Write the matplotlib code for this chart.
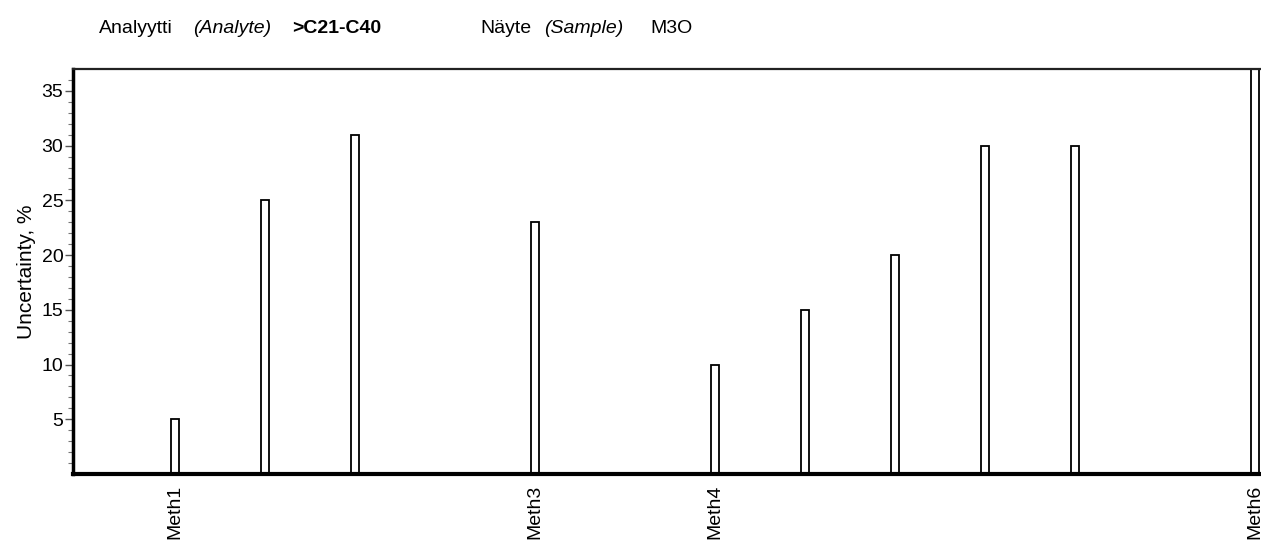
import numpy as np
from matplotlib import pyplot as plt

plt.rcParams['font.family'] = ['Liberation Sans', 'DejaVu Sans']

# data  ----------------------------------------------------------------
slots = [0, 1, 2, 4, 6, 7, 8, 9, 10, 12]          # method slot of each result
uncertainty = [5, 25, 31, 23, 10, 15, 20, 30, 30, 40]
label_slots = [0, 4, 6, 12]
label_names = ['Meth1', 'Meth3', 'Meth4', 'Meth6']

# figure  --------------------------------------------------------------
fig = plt.figure(figsize=(12.61, 5.46), dpi=100)
ax = fig.add_axes([73 / 1261, 1 - 474 / 546, 1 - 73 / 1261, 405 / 546])

ax.bar(slots, uncertainty, width=0.09, color='white', edgecolor='black',
       linewidth=1.3, zorder=2)

ax.set_xlim(-1.13, 12.07)
ax.set_ylim(0, 37)

ax.set_yticks([5, 10, 15, 20, 25, 30, 35])
ax.set_yticks(np.arange(1, 37), minor=True)
ax.tick_params(axis='y', which='major', length=6, width=1, labelsize=14,
               pad=1, color='#555555')
ax.tick_params(axis='y', which='minor', length=3.5, width=0.8, color='#777777')

ax.set_xticks(label_slots)
ax.set_xticklabels(label_names, rotation=90, fontsize=14)
ax.tick_params(axis='x', length=0, pad=8)

ax.set_ylabel('Uncertainty, %', fontsize=15, labelpad=4)

ax.spines['right'].set_visible(False)
ax.spines['left'].set_linewidth(2.5)
ax.spines['bottom'].set_linewidth(3)
ax.spines['top'].set_linewidth(1.6)
ax.spines['top'].set_color('#222222')

# header  --------------------------------------------------------------
y = 1 - 33 / 546
fig.text(99 / 1261, y, 'Analyytti', fontsize=14, va='baseline')
fig.text(193 / 1261, y, '(Analyte)', fontsize=14, style='italic', va='baseline')
fig.text(292 / 1261, y, '>C21-C40', fontsize=14, weight='bold', va='baseline')
fig.text(480 / 1261, y, 'Näyte', fontsize=14, va='baseline')
fig.text(544 / 1261, y, '(Sample)', fontsize=14, style='italic', va='baseline')
fig.text(650 / 1261, y, 'M3O', fontsize=14, va='baseline')

fig.savefig('out.png', dpi=100)
